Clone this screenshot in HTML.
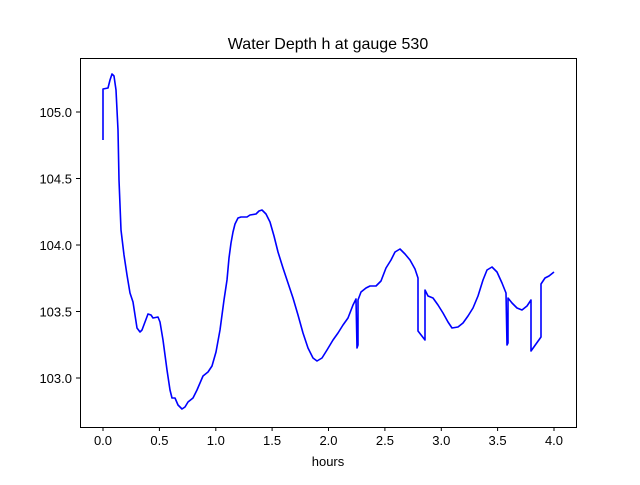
<!DOCTYPE html>
<html><head><meta charset="utf-8"><style>body{margin:0;background:#fff}</style></head><body>
<svg width="640" height="480" xmlns="http://www.w3.org/2000/svg" font-family="Liberation Sans, DejaVu Sans, sans-serif">
<rect width="640" height="480" fill="#fff"/>
<text x="328" y="49" font-size="16" text-anchor="middle">Water Depth h at gauge 530</text>
<polyline fill="none" stroke="#0000ff" stroke-width="1.6" stroke-linejoin="round" points="103,140 103,89 108,88 110,80 112,74 114,76 116,90 118,130 119,180 121,230 124,255 127,275 130,293 133,302 135,315 137,328 140,332 142,330 145,322 148,314 151,315 153,318 158,317 160,322 163,340 167,370 170,390 172,398 175,398 178,405 182,409 185,407 188,402 193,398 197,390 203,376 208,372 212,366 216,352 220,330 224,300 227,280 229,258 231,243 233,232 235,224 238,218 241,217 247,217 250,215 256,214 259,211 262,210 266,214 270,222 274,236 278,252 283,268 288,283 293,298 298,315 303,333 308,348 313,358 317,361 322,358 327,350 333,340 338,333 343,325 348,318 353,305 356,299 357,348 358,345 358,300 361,292 366,288 370,286 376,286 381,281 386,268 391,260 395,252 400,249 405,254 410,260 415,269 418,278 418,331 425,340 425,290 428,296 433,298 438,305 443,313 448,322 452,328 458,327 463,323 468,316 473,308 478,296 483,280 487,270 492,267 497,272 502,283 506,293 507,345 508,343 508,298 512,303 517,308 522,310 527,306 531,300 531,351 541,337 541,284 545,278 549,276 554,272"/>
<rect x="80.5" y="58.5" width="496" height="369" fill="none" stroke="#000" stroke-width="1"/>
<g stroke="#000" stroke-width="1">
<line x1="103" y1="427" x2="103" y2="431"/><line x1="159.4" y1="427" x2="159.4" y2="431"/><line x1="215.8" y1="427" x2="215.8" y2="431"/><line x1="272.1" y1="427" x2="272.1" y2="431"/><line x1="328.5" y1="427" x2="328.5" y2="431"/><line x1="384.9" y1="427" x2="384.9" y2="431"/><line x1="441.3" y1="427" x2="441.3" y2="431"/><line x1="497.6" y1="427" x2="497.6" y2="431"/><line x1="554" y1="427" x2="554" y2="431"/>
<line x1="76" y1="112" x2="80" y2="112"/><line x1="76" y1="178.5" x2="80" y2="178.5"/><line x1="76" y1="245" x2="80" y2="245"/><line x1="76" y1="311.5" x2="80" y2="311.5"/><line x1="76" y1="378" x2="80" y2="378"/>
</g>
<g font-size="13" text-anchor="middle">
<text x="103" y="445">0.0</text><text x="159.4" y="445">0.5</text><text x="215.8" y="445">1.0</text><text x="272.1" y="445">1.5</text><text x="328.5" y="445">2.0</text><text x="384.9" y="445">2.5</text><text x="441.3" y="445">3.0</text><text x="497.6" y="445">3.5</text><text x="554" y="445">4.0</text>
<text x="328" y="466">hours</text>
</g>
<g font-size="13" text-anchor="end">
<text x="72" y="117">105.0</text><text x="72" y="183.5">104.5</text><text x="72" y="250">104.0</text><text x="72" y="316.5">103.5</text><text x="72" y="383">103.0</text>
</g>
</svg>
</body></html>
